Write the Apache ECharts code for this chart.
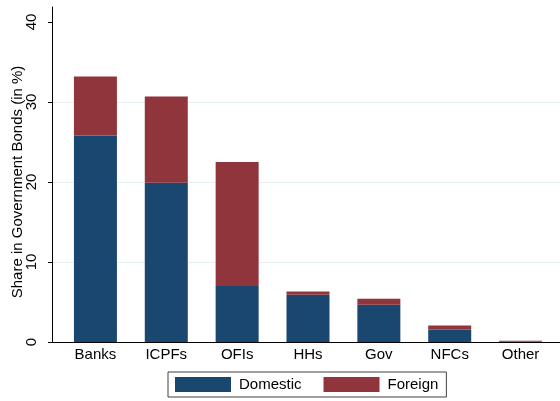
<!DOCTYPE html>
<html>
<head>
<meta charset="utf-8">
<script src="https://cdn.jsdelivr.net/npm/echarts@6/dist/echarts.min.js"></script>
<style>
html, body { margin: 0; padding: 0; background: #fff; }
#chart { width: 560px; height: 401px; }
</style>
</head>
<body>
<div id="chart"></div>
<script>
// holders of government bonds, share in %
var categories = ['Banks', 'ICPFs', 'OFIs', 'HHs', 'Gov', 'NFCs', 'Other'];
var domestic = [25.8, 19.9, 7.0, 5.9, 4.65, 1.55, 0.05];
var foreign = [7.4, 10.8, 15.5, 0.4, 0.75, 0.5, 0.1];
var yTicks = [0, 10, 20, 30, 40];

var fontFam = '"Liberation Sans", Arial, sans-serif';
var chart = echarts.init(document.getElementById('chart'));

var option = {
    animation: false,
    textStyle: { fontFamily: fontFam },
    grid: [
        // frame: axis lines (y line runs a bit above 40)
        { left: 52, right: 0, top: 7, bottom: 59, outerBoundsMode: 'none' },
        // bars
        { left: 60, right: 4, top: 22, bottom: 59, outerBoundsMode: 'none' },
        // y ticks, labels, grid lines
        { left: 52, right: 0, top: 22, bottom: 59, outerBoundsMode: 'none' }
    ],
    legend: {
        data: ['Domestic', 'Foreign'],
        left: 168,
        top: 372,
        icon: 'rect',
        itemWidth: 56,
        itemHeight: 15,
        itemGap: 22,
        padding: [5, 8, 5, 7],
        borderColor: '#404040',
        borderWidth: 1,
        borderRadius: 0,
        textStyle: { fontSize: 15, color: '#000', fontFamily: fontFam, padding: [0, 0, 0, 3] }
    },
    xAxis: [{
        gridIndex: 0,
        type: 'category',
        data: [''],
        axisLine: { lineStyle: { color: '#000', width: 1 } },
        axisTick: { show: false },
        axisLabel: { show: false }
    }, {
        gridIndex: 1,
        type: 'category',
        data: categories,
        axisLine: { show: false },
        axisTick: { show: false },
        axisLabel: { fontSize: 15, color: '#000', margin: 5, fontFamily: fontFam }
    }, {
        gridIndex: 2,
        type: 'category',
        data: [''],
        show: false
    }],
    yAxis: [{
        gridIndex: 0,
        type: 'value',
        min: 0,
        max: 50,
        axisLine: { show: true, lineStyle: { color: '#000', width: 1 } },
        axisTick: { show: false },
        axisLabel: { show: false },
        splitLine: { show: false }
    }, {
        gridIndex: 1,
        type: 'value',
        min: 0,
        max: 40,
        show: false
    }, {
        gridIndex: 2,
        type: 'value',
        min: yTicks[0],
        max: yTicks[yTicks.length - 1],
        interval: 10,
        name: 'Share in Government Bonds (in %)',
        nameLocation: 'middle',
        nameGap: 27,
        nameMoveOverlap: false,
        nameTextStyle: { fontSize: 15, color: '#000', fontFamily: fontFam },
        axisLine: { show: false },
        axisTick: { show: true, length: 4, lineStyle: { color: '#000' } },
        axisLabel: { rotate: 90, fontSize: 15, color: '#000', margin: 13, fontFamily: fontFam },
        splitLine: { show: true, showMaxLine: false, showMinLine: false, lineStyle: { color: '#e6eff3', width: 1 } }
    }],
    series: [{
        name: 'Domestic',
        type: 'bar',
        stack: 'total',
        xAxisIndex: 1,
        yAxisIndex: 1,
        barWidth: 43,
        itemStyle: { color: '#1a476f' },
        data: domestic
    }, {
        name: 'Foreign',
        type: 'bar',
        stack: 'total',
        xAxisIndex: 1,
        yAxisIndex: 1,
        barWidth: 43,
        itemStyle: { color: '#90353b' },
        data: foreign
    }]
};
chart.setOption(option);
</script>
</body>
</html>
